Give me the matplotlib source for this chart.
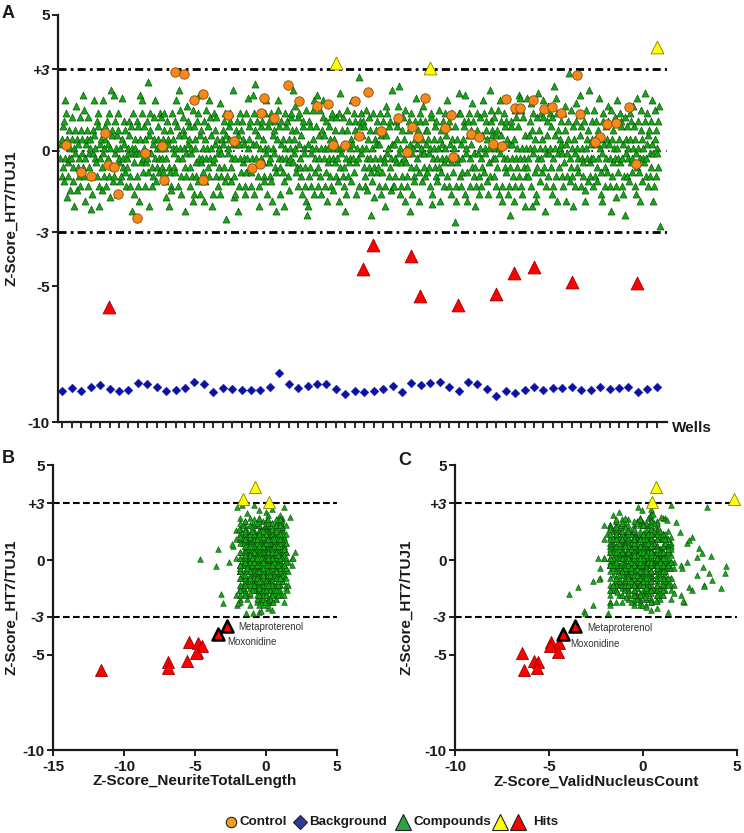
import numpy as np
import matplotlib
matplotlib.use("Agg")
import matplotlib.pyplot as plt
from matplotlib.lines import Line2D

plt.rcParams["font.family"] = ["Liberation Sans", "DejaVu Sans"]
plt.rcParams["font.weight"] = "bold"
plt.rcParams["axes.unicode_minus"] = False
plt.rcParams["text.color"] = "#1a1a1a"
plt.rcParams["axes.labelcolor"] = "#1a1a1a"
plt.rcParams["xtick.color"] = "#1a1a1a"
plt.rcParams["ytick.color"] = "#1a1a1a"

# ---- data ----
# background wells, one per plate column (x = column 1..64)
background_z = [-8.85, -8.76, -8.86, -8.70, -8.65, -8.80, -8.85, -8.82, -8.58, -8.61,
                -8.71, -8.86, -8.82, -8.74, -8.52, -8.61, -8.91, -8.74, -8.77, -8.82,
                -8.82, -8.82, -8.70, -8.21, -8.61, -8.76, -8.67, -8.61, -8.61, -8.79,
                -8.96, -8.86, -8.90, -8.86, -8.79, -8.66, -8.88, -8.58, -8.65, -8.56,
                -8.53, -8.71, -8.85, -8.52, -8.61, -8.79, -9.04, -8.87, -8.94, -8.83,
                -8.72, -8.82, -8.74, -8.74, -8.72, -8.83, -8.83, -8.72, -8.80, -8.76,
                -8.72, -8.90, -8.80, -8.72]

# control wells
control_well = [12.95, 13.94, 15.95, 14.97, 18.54, 19.21, 5.53, 1.39, 11.54, 9.80,
                5.88, 6.48, 2.95, 4.01, 15.89, 11.78, 6.87, 8.95, 24.90, 22.42,
                26.10, 28.04, 29.18, 32.01, 33.45, 39.46, 22.07, 23.45, 36.57, 42.19,
                41.58, 38.08, 34.80, 32.46, 29.74, 30.98, 37.52, 42.46, 21.08, 21.96,
                38.75, 55.55, 48.05, 50.84, 49.01, 49.46, 52.01, 52.86, 53.85, 55.87,
                61.10, 58.73, 59.72, 44.31, 45.19, 58.02, 57.49, 46.60, 47.59, 61.84]
control_z = [2.89, 2.83, 2.08, 1.87, 1.31, 0.37, 0.66, 0.22, 0.16, -0.09,
             -0.52, -0.61, -0.80, -0.93, -1.07, -1.08, -1.58, -2.48, 2.42, 1.93,
             1.84, 1.65, 1.71, 1.84, 2.16, 1.95, 1.40, 1.19, 1.21, 1.31,
             0.82, 0.88, 0.72, 0.53, 0.20, 0.22, -0.04, -0.22, -0.65, -0.49,
             0.51, 2.80, 1.90, 1.87, 1.56, 1.58, 1.55, 1.62, 1.38, 1.34,
             1.62, 0.97, 1.02, 0.60, 0.51, 0.51, 0.33, 0.23, 0.18, -0.48]

# hits above +3 (yellow)
up_z = [3.22, 3.06, 3.82]
up_well = [30.02, 39.99, 64.03]
up_ntl = [-1.64, 0.21, -0.77]
up_vnc = [4.85, 0.46, 0.67]

# hits below -3 (red)
down_names = ["Metaproterenol", "Moxonidine", "", "", "", "", "", "", "", "", ""]
down_z = [-3.47, -3.87, -4.29, -4.37, -4.50, -4.85, -4.88, -5.30, -5.36, -5.69, -5.78]
down_well = [33.95, 37.98, 51.02, 32.89, 48.90, 55.05, 61.94, 46.99, 38.93, 42.96, 5.98]
down_ntl = [-2.77, -3.36, -5.42, -4.81, -4.53, -4.88, -4.95, -5.58, -6.88, -6.88, -11.6]
down_vnc = [-3.60, -4.23, -4.92, -4.48, -4.94, -4.52, -6.44, -5.80, -5.59, -5.65, -6.33]

# compounds, one letter per compound; a lowercase letter is a level from the
# table below, the uppercase letter sits half way to the next level
z_levels = [-2.88, -2.76, -2.64, -2.52, -2.38, -2.22, -2.05, -1.85, -1.60, -1.30,
            -0.95, -0.60, -0.26, 0.08, 0.42, 0.76, 1.08, 1.38, 1.64, 1.86,
            2.05, 2.22, 2.38, 2.53, 2.70, 2.88]
ntl_levels = [-3.30, -3.05, -2.90, -2.75, -2.60, -2.48, -2.30, -2.10, -1.80, -1.48,
              -1.15, -0.82, -0.50, -0.18, 0.12, 0.42, 0.72, 1.02, 1.30, 1.58,
              1.82, 2.02, 2.22, 2.40, 2.55, 2.70]
vnc_levels = [-3.40, -3.20, -3.00, -2.85, -2.70, -2.60, -2.48, -2.30, -2.05, -1.78,
              -1.45, -1.12, -0.80, -0.48, -0.16, 0.14, 0.44, 0.74, 1.04, 1.34,
              1.66, 2.00, 2.35, 2.65, 2.90, 3.10]

comp_z_txt = "".join([
    "mNkoPlqJmtrHokLmpInmQolJgnMpsIolNmkjQpoMulRkhmNopQjlMnoFkiMp",
    "tOnmLkqPrjgNmoIltMknPojLqmNrkHnvOplJukMqnOiprLmnJkoTmlNqpKjm",
    "lMnqOkjPnfMriLonMkqPjhMuoLtrKmnPjoLqmKxgOrpMjlNkoQmtJlnPomKr",
    "nQmlKoprJnmHqoNlgKpjIrnoMlqKntPmjOvnRkimQpnOflMksNqoPjlMnkRh",
    "iPnoLkqJrmuOipLmnKqhJomRnlPktQmnOgiLmrNpkQojMlnSikMopNqlJrdO",
    "kMnoPqrJlmNvkHimNpqOfjNmrKpqLomNjiKrmTnoPqlKjmNuriWpmNqkOjgL",
    "nPmqLokJrnMtiPnqLkmJrhOnpMlqKfoRtmPilNqmKogJnrPmqLkoInmQrpvL",
    "oMsnKplQjrNmlOkiPqnMjlRhegNkqPljMnoRitKmnPuljOmkRnipQtmOnjKq",
    "hLnmPokQjrImnoLpkQmnJrhUlnMpkQljfNmiRpkqLnmJotNmrKqpLinOmjyP",
    "qMrnOqlPkjRnmIolQpmKenJrlHomNpqKljNmrOipKqmLgjOsrMnkPqlImvNj",
    "jNkmLqoPswMnijLkpQmoRhnLjkMqpfNlriMnkJqoTlmNphKrqMnoJslMkqNp",
    "pKolMnjQriGmnoPlkqJmnRlohKpmNqjLrnOmktPqjNmiLorKmncPjhLomUrk",
    "rNjmKoqPuiMnhKqrOjmNplSqkMgljOprMkinQjmOltKrnMpqJoiLnkvRqpOm",
    "kQnmOjplRinMtqOhjNmrPlqKmoiNjelPqmNkohRjmQnlPukTmjRniQmlgOkn",
    "lTkmOqnSjpgMrnKoihQlmUpnJrmKotQlnfMjqOskMrnPliQjmwOnkThrMpln",
    "oNqkMjrLpsNhkMqozJmlRnkPgoMjqSnlKmrOujPnmLkqIhnRomJpvLkmNqoj",
    "mRkoNqlJpmTnoKihMqrNjlPmoKqsNmjfRkoLpnQmjHtnKmoLrqPjmNikQeoM",
    "kPnmJroLqmKnsPojMilTnqKmhRpoJnmLqUkmNrjOpkMqlNthMjoRpknMqlsb",
])
comp_ntl_txt = "".join([
    "nOmpQlkOnrMjonPsmLokQnimOrplNkomQjpNlroKmioNqmpLjsOnkrMoqLnp",
    "oNlmQpkRnoJmslNoqKmpNrilOmjQnpOkmLrnQjoMkpNsloQmnKjpRolMnoQk",
    "mNqoLpkJroInmQsnOlkPmrJnoQlmKpinOrlMqjNokPsmLnoqJkmRnpOlimQn",
    "pNomKqlJrnOmipQlnKmoSrjNlomQpkInloRqmNjkPoumLnqRokJmnPlqOimh",
    "qOlnMkpRjoNlmQiopNkmRlsJnoMqlPknOimRqlNjoPkmtNlqOmrJkpNilMoq",
    "lNopMqkJnrOmlPiqNmoKsrJlnPomQkinOlrPmqJnkOlmSpnRoqJmkLinOpmq",
    "nOmlQpkRjoNmiQslNopKmrJqlNomKpiNrqOljMnkPsoLqmNrjOkpIlmNqoro",
    "oMpnLqkJroNmsLpqInokMrlJnqOpmKinLrpOqjMnkSolQmrNjpOklImnQpon",
    "kQnoMlpRjnOimSqlNpkOmjRlnQomKpiNolRqmJnpKslOmqNrjOkpMilNoqpm",
    "hNolMpqKrjNomIsqLpnOkmRjlNqpOmkIlnoRqjMnkPsoLmqRnjOpkMlinQop",
    "tMnoPlqKjrNomIsplQnoKmjRlnQpoMkiNloRqjMnpKsoLmqNrjOpkMilNoqg",
    "pNmoLqkRjnOimSqpLnkOmrJlnQpmOkiNloRqjNmpKslOmqRnjOpkMilNoqpn",
    "iOnmPlqKjrNoiMsqLpnKomRjlNqpOmkiNloRqjMnpKslOmqRnjOpkMilNoqu",
    "rPnmOqlKjnOrmIsplQnkOmjRlnPqomKilNorQjmNpkSlomQrNjopKmiLnoqh",
    "mLqnOpkRjnOmsIlqPnkOmrJlnQpoMkinLorQjmNpkSlomQrNjopKmiLnoqtp",
    "oQmnLpkJrnOmiSqplNkoMrjLnqPomKinLorQjmNpkSlomQrNjopKmiLnoqvn",
    "sNmoLpkQjrNomIqslPnkOmrJlnQpoMkinLorQjmNpkSlomQrNjopKmiLnoqk",
    "kNopMlqJrnOmiSqplNkoMrjLnqPomKinLorQjmNpkSlomQrNjopKmiLnoqim",
])
comp_vnc_txt = "".join([
    "oQnmPsrLokQnpMtjOrqmNlpSokQrmNpoLjqSnrMkoPtqNlrMposKqnJrmOpq",
    "pNqoRmlKsoNpqJmrOutNqmPkoLsrNqmPojRkqNsoMlpQrtNkoMjqSprNloKq",
    "qOmnRpkSloNqmJprTonQlmSkpOrqNmiJqsRponKmlQtrNopSmkQjrOnlPqmo",
    "rPoqNmkLsqNorPmjTqnOlkRpsMnqOijRpnSqoMklRtpNqoSmjKprOnqLmspv",
    "nQpoRsmLkqNopJmrSqnOtlKpmRqnOsjKmpQroInlSqpMtnOqrKjlPmsOnqro",
    "oPrqNmsLkjNoqPrmTsqOnlKmrPqnOjsMlkPrqOntLmqSpnOrkJqmLpsRnoqh",
    "qNpoMrsKlqNojPmrTqnOslKpmRqnOjsMlkPrqNotLmqSpnOrkJqmLpsRnoqu",
    "mPqoNrsLkqNopJmrTsqOnlKmpRqnOjsMlkPrqOntLmqSpnOrkJqmLpsRnoqi",
    "rNopQmsLkqNojPmrTsqOnlKmpRqnOjsMlkPrqOntLmqSpnOrkJqmLpsRnoqw",
    "pOqnMrsLkqJnoPmrTsqOnlKmpRqnOjsMlkPrqOntLmqSpnOrkJqmLpsRnoqj",
    "oNqpMrsLkqNojPmrTsqOnlKmpRqnOjsMlkPrqOntLmqSpnOrkJqmLpsRnoqt",
    "qPonMrsLkqNojPmrTsqOnlKmpRqnOjsMlkPrqOntLmqSpnOrkJqmLpsRnoqh",
    "nQopMrsLkqNojPmrTsqOnlKmpRqnOjsMlkPrqOntLmqSpnOrkJqmLpsRnoqv",
    "oPqnMrsLkqNojPmrTsqOnlKmpRqnOjsMlkPrqOntLmqSpnOrkJqmLpsRnoqs",
    "pQonMrsLkqNojPmrTsqOnlKmpRqnOjsMlkPrqOntLmqSpnOrkJqmLpsRnoqi",
    "qNpoMrsLkqNojPmrTsqOnlKmpRqnOjsMlkPrqOntLmqSpnOrkJqmLpsRnoqu",
    "mQpoNrsLkqNojPmrTsqOnlKmpRqnOjsMlkPrqOntLmqSpnOrkJqmLpsRnoqk",
    "oPnqMrsLkqNojPmrTsqOnlKmpRqnOjsMlkPrqOntLmqSpnOrkJqmLpsRnoqt",
])

# scattered compounds outside the dense cores of B and C
ntl_extra_x = [-4.65, -3.36, -3.52, -3.19, -3.05, -2.06, -1.99, -1.43, -0.89, -0.35,
               -2.63, -2.37, -2.11, -1.88, -2.02, -1.67, -0.51, 1.29, 1.69, 1.92,
               1.48, 0.52, -0.05]
ntl_extra_z = [0.05, 0.56, -0.32, -1.79, -2.28, -2.37, -2.28, -2.81, -2.81, -2.67,
               -0.09, 0.84, 1.58, 1.61, 2.81, 2.89, 2.63, 2.81, 2.25, 0.12,
               -1.58, -2.19, -2.19]
vnc_extra_x = [-3.95, -3.46, -2.38, -2.68, -2.33, -3.12, -3.07, -1.87, -2.68, -1.41,
               -1.15, 3.40, 4.43, 4.37, 4.16, 3.62, 3.14, 2.96, 3.67, 3.23,
               3.49, 3.19, 2.87, 2.61, 2.17, 2.61, 2.43, 1.99, 1.73, 1.29,
               2.34, 2.08, 2.43, 2.87, 1.64, 0.11, 0.41, -0.04, -0.92, -1.36,
               -1.10, -0.25, -0.07, 0.53, 0.94, 0.14, 0.70, 2.13, 3.26]
vnc_extra_z = [-1.79, -1.40, 0.09, -1.09, -1.02, -2.67, -2.81, -2.81, -2.37, 1.72,
               1.84, 2.81, -0.30, -0.70, -1.49, 0.21, 0.38, 0.61, -1.05, -1.32,
               -0.67, -0.35, -0.79, -1.58, -2.19, 1.23, 1.05, 1.49, 2.02, 2.11,
               -0.09, -0.44, -1.40, 0.18, -1.75, -1.93, -2.19, -2.37, -1.93, -1.67,
               1.93, 2.77, 2.63, 2.42, 2.28, -2.46, -2.14, -2.14, -1.37]

legend_labels = ["Control", "Background", "Compounds", "Hits"]

# ---- styles ----
GREEN, GREEN_EDGE = "#12aa12", "#0b3d0b"
ORANGE, ORANGE_EDGE = "#f5891c", "#8a4a05"
BLUE = "#0b12a3"
YELLOW, YELLOW_EDGE = "#ffff00", "#808000"
RED, RED_EDGE = "#ff0000", "#990000"
INK = "#1a1a1a"
W, H = 744, 833


def decode(txt, levels, n):
    """Turn one letter per compound into a value using the level table."""
    lv = np.array(levels)
    half = np.append((lv[:-1] + lv[1:]) / 2, lv[-1])
    out = []
    for ch in txt[:n]:
        i = ord(ch.lower()) - 97
        out.append(half[i] if ch.isupper() else lv[i])
    return np.array(out)


def style_axis(ax):
    for side in ("top", "right"):
        ax.spines[side].set_visible(False)
    for side in ("left", "bottom"):
        ax.spines[side].set_linewidth(1.6)
        ax.spines[side].set_color(INK)
    ax.set_ylim(-10, 5)
    ax.set_yticks([5, 3, 0, -3, -5, -10])
    ax.set_yticklabels(["5", "+3", "0", "-3", "-5", "-10"])
    for i, lab in enumerate(ax.get_yticklabels()):
        lab.set_fontweight("bold")
        lab.set_fontsize(11)
        if i in (1, 3):
            lab.set_fontstyle("italic")
    ax.tick_params(axis="y", length=4, width=1.4, pad=2)
    ax.tick_params(axis="x", length=4, width=1.4, pad=3, labelsize=11)


n = min(len(comp_z_txt), len(comp_ntl_txt), len(comp_vnc_txt))
comp_z = decode(comp_z_txt, z_levels, n)
comp_ntl = decode(comp_ntl_txt, ntl_levels, n)
comp_vnc = decode(comp_vnc_txt, vnc_levels, n)
comp_well = np.linspace(0.8, 64.3, n)
cols = np.arange(1, len(background_z) + 1)

fig = plt.figure(figsize=(W / 100, H / 100), dpi=100)
axA = fig.add_axes([58 / W, 1 - 422 / H, 608.7 / W, 407 / H])
axB = fig.add_axes([53 / W, 1 - 750 / H, 284 / W, 285 / H])
axC = fig.add_axes([455 / W, 1 - 750 / H, 282 / W, 285 / H])

# ---- panel A ----
axA.axhline(3, color="black", lw=2, ls=(0, (2.9, 1.5, 1.0, 1.5)), zorder=1)
axA.axhline(-3, color="black", lw=2, ls=(0, (2.9, 1.5, 1.0, 1.5)), zorder=1)
axA.axhline(0, color="black", lw=1.2, ls=(0, (1, 4)), zorder=1)
axA.scatter(comp_well, comp_z, marker="^", s=26, c=GREEN, edgecolors=GREEN_EDGE,
            linewidths=0.4, zorder=2)
axA.scatter(control_well, control_z, marker="o", s=46, c=ORANGE,
            edgecolors=ORANGE_EDGE, linewidths=0.6, zorder=3)
axA.scatter(cols, background_z, marker="D", s=20, c=BLUE, edgecolors=BLUE,
            linewidths=0.3, zorder=3)
axA.scatter(up_well, up_z, marker="^", s=85, c=YELLOW, edgecolors=YELLOW_EDGE,
            linewidths=0.6, zorder=4, clip_on=False)
axA.scatter(down_well, down_z, marker="^", s=85, c=RED, edgecolors=RED_EDGE,
            linewidths=0.6, zorder=4)
style_axis(axA)
axA.set_xlim(0.54, 65.06)
axA.set_xticks(cols)
axA.set_xticklabels([])
axA.tick_params(axis="x", length=4, width=1.3)
axA.set_ylabel("Z-Score_HT7/TUJ1", fontsize=11, fontweight="bold")
axA.yaxis.set_label_coords(-0.066, 0.5)
axA.text(1.008, -0.015, "Wells", transform=axA.transAxes, ha="left", va="center",
         fontsize=11, fontweight="bold")

# ---- panels B and C ----
panels = [
    (axB, comp_ntl, ntl_extra_x, ntl_extra_z, up_ntl, down_ntl, (-15, 5),
     [-15, -10, -5, 0, 5], "Z-Score_NeuriteTotalLength", -0.123,
     [(-1.95, -3.54), (-2.75, -4.30)]),
    (axC, comp_vnc, vnc_extra_x, vnc_extra_z, up_vnc, down_vnc, (-10, 5),
     [-10, -5, 0, 5], "Z-Score_ValidNucleusCount", -0.149,
     [(-2.95, -3.60), (-3.88, -4.42)]),
]
named = np.array([bool(s) for s in down_names])
for ax, cx, ex, ez, ux, dx, xlim, xt, xlabel, ylab_x, label_pos in panels:
    ax.axhline(3, color="black", lw=1.5, ls=(0, (3.2, 1.6)), zorder=1)
    ax.axhline(-3, color="black", lw=1.5, ls=(0, (3.2, 1.6)), zorder=1)
    ax.scatter(cx, comp_z, marker="^", s=17, c=GREEN, edgecolors=GREEN_EDGE,
               linewidths=0.35, zorder=2)
    ax.scatter(ex, ez, marker="^", s=17, c=GREEN, edgecolors=GREEN_EDGE,
               linewidths=0.35, zorder=2)
    ax.scatter(ux, up_z, marker="^", s=75, c=YELLOW, edgecolors=YELLOW_EDGE,
               linewidths=0.6, zorder=4, clip_on=False)
    dx = np.array(dx)
    dz = np.array(down_z)
    ax.scatter(dx[~named], dz[~named], marker="^", s=75, c=RED,
               edgecolors=RED_EDGE, linewidths=0.6, zorder=4)
    ax.scatter(dx[named], dz[named], marker="^", s=75, c=RED,
               edgecolors="black", linewidths=1.8, zorder=5)
    for name, (tx, ty) in zip([s for s in down_names if s], label_pos):
        ax.text(tx, ty, name, fontsize=7, fontweight="normal", color="#333333",
                ha="left", va="center")
    style_axis(ax)
    ax.set_xlim(*xlim)
    ax.set_xticks(xt)
    for lab in ax.get_xticklabels():
        lab.set_fontweight("bold")
    ax.set_xlabel(xlabel, fontsize=11, fontweight="bold")
    ax.xaxis.set_label_coords(0.5, -0.085)
    ax.set_ylabel("Z-Score_HT7/TUJ1", fontsize=11, fontweight="bold")
    ax.yaxis.set_label_coords(ylab_x, 0.5)

# panel letters
fig.text(2 / W, 1 - 18.5 / H, "A", fontsize=13, fontweight="bold", va="baseline")
fig.text(2 / W, 1 - 463.5 / H, "B", fontsize=13, fontweight="bold", va="baseline")
fig.text(398 / W, 1 - 465 / H, "C", fontsize=13, fontweight="bold", va="baseline")

# legend drawn by hand so the two hit triangles sit side by side
ly = 1 - 822 / H
legend_marks = [
    (231, "o", 7.5, "#f0a020"),
    (300, "D", 7.5, "#2e3a9a"),
    (403, "^", 11, "#30a040"),
    (500, "^", 11, YELLOW),
    (518, "^", 11, RED),
]
for px, mk, ms, col in legend_marks:
    fig.add_artist(Line2D([px / W], [ly], transform=fig.transFigure, ls="none",
                          marker=mk, ms=ms, mfc=col, mec="#222222", mew=0.8))
for px, lab in zip([240, 309, 414, 533], legend_labels):
    fig.text(px / W, ly, lab, fontsize=9.6, fontweight="bold", ha="left",
             va="center")

fig.savefig("out.png", dpi=100)
plt.close(fig)
